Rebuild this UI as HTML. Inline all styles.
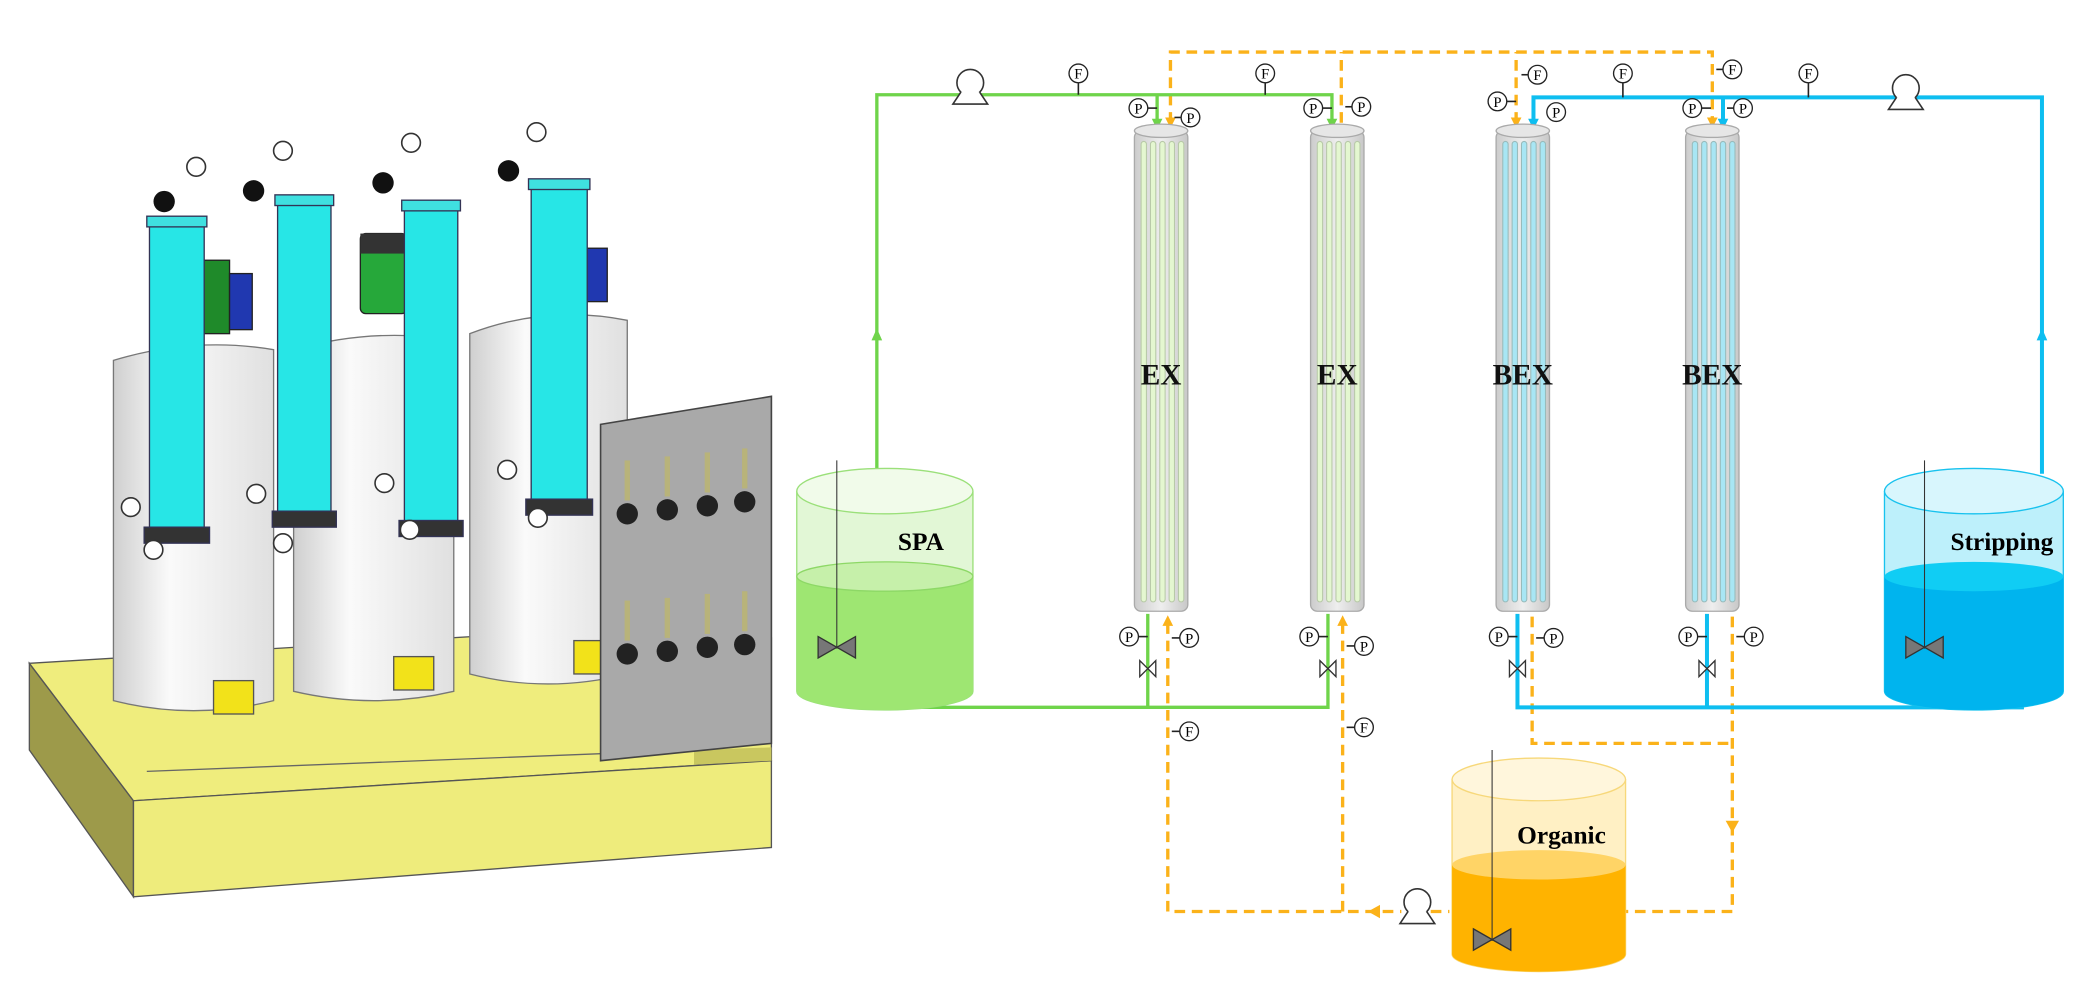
<!DOCTYPE html>
<html><head><meta charset="utf-8"><style>
html,body{margin:0;padding:0;background:#fff;width:2082px;height:1000px;overflow:hidden}
svg{display:block}
text{font-family:"Liberation Serif",serif}
</style></head><body>
<svg width="2082" height="1000" viewBox="0 0 1560 749.3" preserveAspectRatio="none" xmlns="http://www.w3.org/2000/svg">
<defs>
<linearGradient id="wt" x1="0" x2="1"><stop offset="0" stop-color="#cfcfcf"/><stop offset=".35" stop-color="#fafafa"/><stop offset="1" stop-color="#e0e0e0"/></linearGradient>
<linearGradient id="col" x1="0" x2="1"><stop offset="0" stop-color="#ccc"/><stop offset=".5" stop-color="#eee"/><stop offset="1" stop-color="#c8c8c8"/></linearGradient>
<g id="gP"><circle r="7" fill="#fff" stroke="#222" stroke-width="1"/><text y="4" text-anchor="middle" font-size="11">P</text></g>
<g id="gF"><circle r="7" fill="#fff" stroke="#222" stroke-width="1"/><text y="4" text-anchor="middle" font-size="11">F</text></g>
<g id="valve"><path d="M-6,-6 L6,6 L6,-6 L-6,6 Z" fill="#fff" stroke="#333" stroke-width="1"/></g>
<g id="pump"><circle r="10" fill="#fff" stroke="#333" stroke-width="1.2"/><path d="M-7,7 L-13,16 L13,16 L7,7" fill="#fff" stroke="#333" stroke-width="1.2"/></g>
</defs>

<!-- ===== LEFT 3D RENDER ===== -->
<polygon points="22,497 100,600 100,672 22,562" fill="#9d9a4a" stroke="#555" stroke-width="1"/>
<polygon points="22,497 470,470 578,478 578,570 100,600" fill="#efed7d" stroke="#555" stroke-width="1"/>
<polygon points="100,600 578,570 578,635 100,672" fill="#eeec7c" stroke="#555" stroke-width="1"/>
<line x1="110" y1="578" x2="520" y2="562" stroke="#666" stroke-width="1"/>
<polygon points="520,562 578,560 578,570 520,573" fill="#c9c75f"/>
<!-- tanks -->
<g stroke="#777" stroke-width="1">
<path d="M352,250 Q410,228 470,240 L470,505 Q410,520 352,505 Z" fill="url(#wt)"/>
<path d="M220,262 Q280,245 340,255 L340,518 Q280,532 220,518 Z" fill="url(#wt)"/>
<path d="M85,270 Q145,252 205,262 L205,525 Q145,540 85,525 Z" fill="url(#wt)"/>
</g>
<!-- motors -->
<rect x="150" y="195" width="22" height="55" fill="#1f8a2a" stroke="#222"/>
<rect x="172" y="205" width="17" height="42" fill="#2038b0" stroke="#222"/>
<rect x="270" y="175" width="35" height="60" rx="4" fill="#26a83a" stroke="#222"/>
<rect x="270" y="175" width="35" height="15" fill="#333"/>
<rect x="437" y="186" width="18" height="40" fill="#2038b0" stroke="#222"/>
<!-- columns -->
<g stroke="#335" stroke-width="1">
<rect x="112" y="168" width="41" height="228" fill="#27e6e6"/><rect x="108" y="395" width="49" height="12" fill="#333"/><rect x="110" y="162" width="45" height="8" fill="#3fe0e0"/>
<rect x="208" y="152" width="40" height="232" fill="#27e6e6"/><rect x="204" y="383" width="48" height="12" fill="#333"/><rect x="206" y="146" width="44" height="8" fill="#3fe0e0"/>
<rect x="303" y="156" width="40" height="236" fill="#27e6e6"/><rect x="299" y="390" width="48" height="12" fill="#333"/><rect x="301" y="150" width="44" height="8" fill="#3fe0e0"/>
<rect x="398" y="140" width="42" height="236" fill="#27e6e6"/><rect x="394" y="374" width="50" height="12" fill="#333"/><rect x="396" y="134" width="46" height="8" fill="#3fe0e0"/>
</g>
<!-- gauges on 3D -->
<g fill="#fff" stroke="#333" stroke-width="1.2">
<circle cx="147" cy="125" r="7"/><circle cx="212" cy="113" r="7"/><circle cx="308" cy="107" r="7"/><circle cx="402" cy="99" r="7"/>
<circle cx="98" cy="380" r="7"/><circle cx="192" cy="370" r="7"/><circle cx="288" cy="362" r="7"/><circle cx="380" cy="352" r="7"/>
<circle cx="115" cy="412" r="7"/><circle cx="212" cy="407" r="7"/><circle cx="307" cy="397" r="7"/><circle cx="403" cy="388" r="7"/>
</g>
<g fill="#111"><circle cx="123" cy="151" r="8"/><circle cx="190" cy="143" r="8"/><circle cx="287" cy="137" r="8"/><circle cx="381" cy="128" r="8"/></g>
<!-- yellow valves -->
<g fill="#f2e21a" stroke="#555"><rect x="160" y="510" width="30" height="25"/><rect x="295" y="492" width="30" height="25"/><rect x="430" y="480" width="25" height="25"/></g>
<!-- panel -->
<polygon points="450,318 578,297 578,557 450,570" fill="#a9a9a9" stroke="#444" stroke-width="1.2"/>
<g fill="#222">
<circle cx="470" cy="385" r="8"/><circle cx="500" cy="382" r="8"/><circle cx="530" cy="379" r="8"/><circle cx="558" cy="376" r="8"/>
<circle cx="470" cy="490" r="8"/><circle cx="500" cy="488" r="8"/><circle cx="530" cy="485" r="8"/><circle cx="558" cy="483" r="8"/>
</g>
<g stroke="#b8b37a" stroke-width="4">
<line x1="470" y1="345" x2="470" y2="375"/><line x1="500" y1="342" x2="500" y2="372"/><line x1="530" y1="339" x2="530" y2="369"/><line x1="558" y1="336" x2="558" y2="366"/>
<line x1="470" y1="450" x2="470" y2="480"/><line x1="500" y1="448" x2="500" y2="478"/><line x1="530" y1="445" x2="530" y2="475"/><line x1="558" y1="443" x2="558" y2="473"/>
</g>

<!-- ===== RIGHT DIAGRAM ===== -->
<!-- orange dashed -->
<g fill="none" stroke="#fbb21a" stroke-width="2.5" stroke-dasharray="8,5">
<path d="M877,92 V39 H1283 V92"/>
<path d="M1005,92 V39"/>
<path d="M1136,92 V39"/>
<path d="M875,467 V683 H1050"/>
<path d="M1006,467 V683"/>
<path d="M1148,462 V557 H1298"/>
<path d="M1298,462 V683 H1217"/>
<path d="M1072,683 H1086"/>
</g>
<g fill="#fbb21a">
<path d="M877,96 l-4,-8 h8z"/><path d="M1136,96 l-4,-8 h8z"/><path d="M1283,96 l-4,-8 h8z"/>
<path d="M875,461 l-4,8 h8z"/><path d="M1006,461 l-4,8 h8z"/>
<path d="M1298,624 l-5,-9 h10z"/><path d="M1025,683 l9,-5 v10z"/>
</g>
<!-- green -->
<g fill="none" stroke="#6fd44a" stroke-width="2.5">
<path d="M657,355 V71 H998 V92"/>
<path d="M867,71 V92"/>
<path d="M660,515 V530 H995 V460"/>
<path d="M860,460 V530"/>
</g>
<g fill="#6fd44a"><path d="M657,246 l-4,9 h8z"/><path d="M660,508 l-4,9 h8z"/><path d="M867,97 l-4,-8 h8z"/><path d="M998,97 l-4,-8 h8z"/></g>
<!-- blue -->
<g fill="none" stroke="#0ebef0" stroke-width="3">
<path d="M1149,92 V73 H1530 V355"/>
<path d="M1291,73 V92"/>
<path d="M1137,460 V530 H1515 V515"/>
<path d="M1279,460 V530"/>
</g>
<g fill="#0ebef0"><path d="M1530,246 l-4,9 h8z"/><path d="M1515,508 l-4,9 h8z"/><path d="M1149,97 l-4,-8 h8z"/><path d="M1291,97 l-4,-8 h8z"/></g>

<!-- columns -->
<g>
<g transform="translate(850,0)"><rect x="0" y="98" width="40" height="360" rx="5" fill="url(#col)" stroke="#aaa"/><ellipse cx="20" cy="98" rx="20" ry="5" fill="#e6e6e6" stroke="#aaa"/>
<g fill="#e4f7d0" stroke="#b8c9a8" stroke-width=".8"><rect x="5" y="106" width="4" height="345" rx="2"/><rect x="12" y="106" width="4" height="345" rx="2"/><rect x="19" y="106" width="4" height="345" rx="2"/><rect x="26" y="106" width="4" height="345" rx="2"/><rect x="33" y="106" width="4" height="345" rx="2"/></g></g>
<g transform="translate(982,0)"><rect x="0" y="98" width="40" height="360" rx="5" fill="url(#col)" stroke="#aaa"/><ellipse cx="20" cy="98" rx="20" ry="5" fill="#e6e6e6" stroke="#aaa"/>
<g fill="#e4f7d0" stroke="#b8c9a8" stroke-width=".8"><rect x="5" y="106" width="4" height="345" rx="2"/><rect x="12" y="106" width="4" height="345" rx="2"/><rect x="19" y="106" width="4" height="345" rx="2"/><rect x="26" y="106" width="4" height="345" rx="2"/><rect x="33" y="106" width="4" height="345" rx="2"/></g></g>
<g transform="translate(1121,0)"><rect x="0" y="98" width="40" height="360" rx="5" fill="url(#col)" stroke="#aaa"/><ellipse cx="20" cy="98" rx="20" ry="5" fill="#e6e6e6" stroke="#aaa"/>
<g fill="#a8e6f4" stroke="#9bb" stroke-width=".8"><rect x="5" y="106" width="4" height="345" rx="2"/><rect x="12" y="106" width="4" height="345" rx="2"/><rect x="19" y="106" width="4" height="345" rx="2"/><rect x="26" y="106" width="4" height="345" rx="2"/><rect x="33" y="106" width="4" height="345" rx="2"/></g></g>
<g transform="translate(1263,0)"><rect x="0" y="98" width="40" height="360" rx="5" fill="url(#col)" stroke="#aaa"/><ellipse cx="20" cy="98" rx="20" ry="5" fill="#e6e6e6" stroke="#aaa"/>
<g fill="#a8e6f4" stroke="#9bb" stroke-width=".8"><rect x="5" y="106" width="4" height="345" rx="2"/><rect x="12" y="106" width="4" height="345" rx="2"/><rect x="19" y="106" width="4" height="345" rx="2"/><rect x="26" y="106" width="4" height="345" rx="2"/><rect x="33" y="106" width="4" height="345" rx="2"/></g></g>
</g>
<g font-size="22" font-weight="bold" text-anchor="middle" fill="#111">
<text x="870" y="288">EX</text><text x="1002" y="288">EX</text><text x="1141" y="288">BEX</text><text x="1283" y="288">BEX</text>
</g>

<!-- tanks -->
<g>
<path d="M597,368 V518 A66,14 0 0 0 729,518 V368" fill="#e2f7d6" stroke="#9be07a"/>
<path d="M597,432 V518 A66,14 0 0 0 729,518 V432 Z" fill="#9ee672"/>
<ellipse cx="663" cy="432" rx="66" ry="11" fill="#c6f0aa" stroke="#8dd866"/>
<ellipse cx="663" cy="368" rx="66" ry="17" fill="#f1fbea" stroke="#9be07a"/>
<line x1="627" y1="345" x2="627" y2="486" stroke="#333" stroke-width=".8"/>
<path d="M613,477 L641,493 V477 L613,493Z" fill="#777" stroke="#333"/>
<text x="690" y="412" font-size="19" font-weight="bold" text-anchor="middle">SPA</text>

<path d="M1412,368 V518 A67,14 0 0 0 1546,518 V368" fill="#bdf0fb" stroke="#18c2ee"/>
<path d="M1412,432 V518 A67,14 0 0 0 1546,518 V432 Z" fill="#00b4ee"/>
<ellipse cx="1479" cy="432" rx="67" ry="11" fill="#10cdf4"/>
<ellipse cx="1479" cy="368" rx="67" ry="17" fill="#d8f6fd" stroke="#18c2ee"/>
<line x1="1442" y1="345" x2="1442" y2="486" stroke="#333" stroke-width=".8"/>
<path d="M1428,477 L1456,493 V477 L1428,493Z" fill="#777" stroke="#333"/>
<text x="1500" y="412" font-size="19" font-weight="bold" text-anchor="middle">Stripping</text>

<path d="M1088,584 V715 A65,13 0 0 0 1218,715 V584" fill="#fff0c4" stroke="#f7d87a"/>
<path d="M1088,648 V715 A65,13 0 0 0 1218,715 V648 Z" fill="#ffb300"/>
<ellipse cx="1153" cy="648" rx="65" ry="11" fill="#ffd466"/>
<ellipse cx="1153" cy="584" rx="65" ry="16" fill="#fff6dc" stroke="#f7d87a"/>
<line x1="1118" y1="562" x2="1118" y2="705" stroke="#333" stroke-width=".8"/>
<path d="M1104,696 L1132,712 V696 L1104,712Z" fill="#777" stroke="#333"/>
<text x="1170" y="632" font-size="19" font-weight="bold" text-anchor="middle">Organic</text>
</g>

<!-- pumps -->
<use href="#pump" x="727" y="62"/>
<use href="#pump" x="1428" y="66"/>
<use href="#pump" x="1062" y="676"/>

<!-- gauges top -->
<g stroke="#222" stroke-width="1.2">
<line x1="808" y1="62" x2="808" y2="71"/><line x1="948" y1="62" x2="948" y2="71"/>
<line x1="1216" y1="62" x2="1216" y2="73"/><line x1="1355" y1="62" x2="1355" y2="73"/>
<line x1="860" y1="81" x2="867" y2="81"/><line x1="880" y1="88" x2="885" y2="88"/>
<line x1="991" y1="81" x2="998" y2="81"/><line x1="1008" y1="80" x2="1013" y2="80"/>
<line x1="1129" y1="76" x2="1136" y2="76"/><line x1="1140" y1="56" x2="1145" y2="56"/>
<line x1="1275" y1="81" x2="1282" y2="81"/><line x1="1286" y1="52" x2="1291" y2="52"/><line x1="1294" y1="81" x2="1299" y2="81"/>
<line x1="853" y1="477" x2="860" y2="477"/><line x1="878" y1="478" x2="884" y2="478"/>
<line x1="988" y1="477" x2="995" y2="477"/><line x1="1009" y1="484" x2="1015" y2="484"/>
<line x1="1130" y1="477" x2="1137" y2="477"/><line x1="1151" y1="478" x2="1157" y2="478"/>
<line x1="1272" y1="477" x2="1279" y2="477"/><line x1="1301" y1="477" x2="1307" y2="477"/>
<line x1="878" y1="548" x2="884" y2="548"/><line x1="1009" y1="545" x2="1015" y2="545"/>
</g>
<use href="#gF" x="808" y="55"/><use href="#gF" x="948" y="55"/><use href="#gF" x="1216" y="55"/><use href="#gF" x="1355" y="55"/>
<use href="#gP" x="853" y="81"/><use href="#gP" x="892" y="88"/>
<use href="#gP" x="984" y="81"/><use href="#gP" x="1020" y="80"/>
<use href="#gP" x="1122" y="76"/><use href="#gF" x="1152" y="56"/><use href="#gP" x="1166" y="84"/>
<use href="#gP" x="1268" y="81"/><use href="#gF" x="1298" y="52"/><use href="#gP" x="1306" y="81"/>
<use href="#gP" x="846" y="477"/><use href="#gP" x="891" y="478"/>
<use href="#gP" x="981" y="477"/><use href="#gP" x="1022" y="484"/>
<use href="#gP" x="1123" y="477"/><use href="#gP" x="1164" y="478"/>
<use href="#gP" x="1265" y="477"/><use href="#gP" x="1314" y="477"/>
<use href="#gF" x="891" y="548"/><use href="#gF" x="1022" y="545"/>
<use href="#valve" x="860" y="501"/><use href="#valve" x="995" y="501"/><use href="#valve" x="1137" y="501"/><use href="#valve" x="1279" y="501"/>
</svg>
</body></html>
